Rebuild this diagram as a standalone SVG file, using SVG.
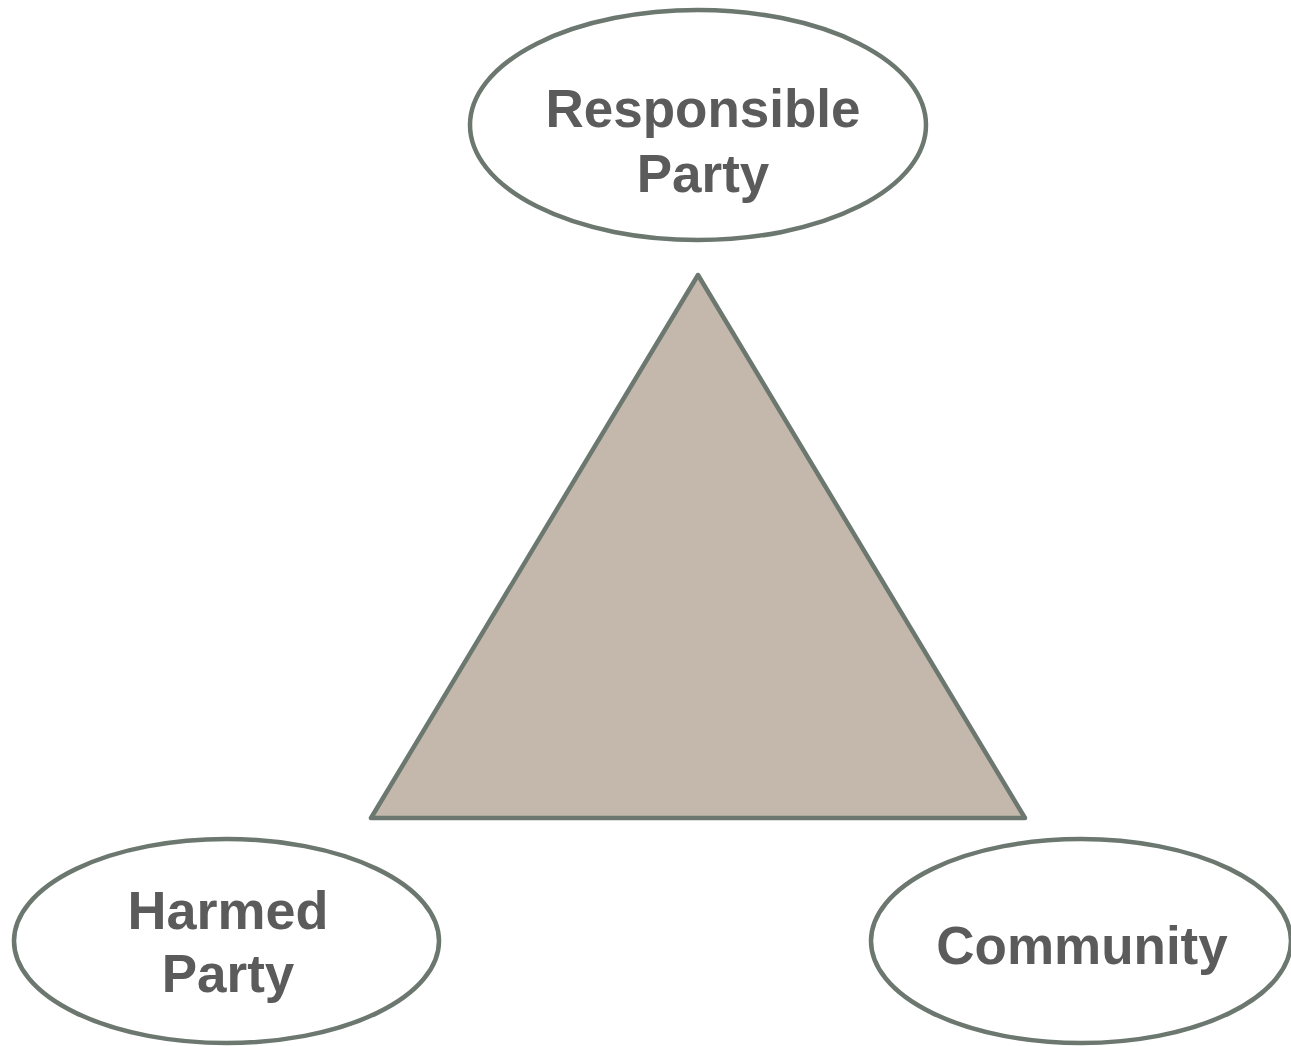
<svg xmlns="http://www.w3.org/2000/svg" width="1291" height="1046" viewBox="0 0 1291 1046">
<style>
.shape{stroke:#6b776f;stroke-width:4.5;stroke-linejoin:round}
.node{fill:#ffffff}
.lbl{font-family:"Liberation Sans",Arial,sans-serif;font-weight:bold;font-size:53px;fill:#5b5b5b;text-anchor:middle}
</style>
<rect width="1291" height="1046" fill="#ffffff"/>
<g id="connectors">
<polygon class="shape" points="698,275 371,818 1025,818" fill="#c3b8ab"/>
</g>
<g id="responsible-party">
<ellipse class="shape node" cx="698" cy="125" rx="228" ry="115"/>
<text class="lbl" x="703" y="127">Responsible</text>
<text class="lbl" x="703" y="192">Party</text>
</g>
<g id="harmed-party">
<ellipse class="shape node" cx="226.5" cy="941" rx="212.5" ry="102"/>
<text class="lbl" x="228" y="929" style="font-size:54px">Harmed</text>
<text class="lbl" x="228" y="992">Party</text>
</g>
<g id="community">
<ellipse class="shape node" cx="1081" cy="941" rx="210" ry="102"/>
<text class="lbl" x="1082" y="964">Community</text>
</g>
</svg>
